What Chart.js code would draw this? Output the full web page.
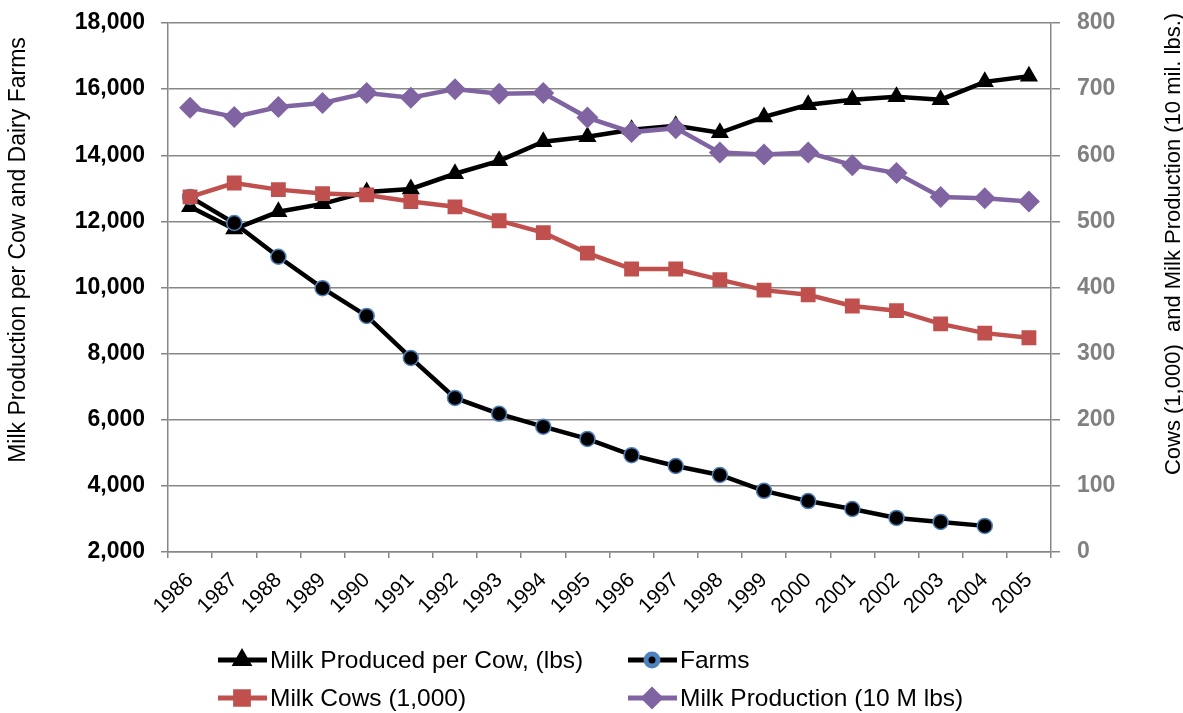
<!DOCTYPE html>
<html>
<head>
<meta charset="utf-8">
<script src="https://cdn.jsdelivr.net/npm/chart.js@4.4.1/dist/chart.umd.min.js"></script>
<style>
  html, body { margin: 0; padding: 0; background: #fff; }
  #wrap { width: 1183px; height: 713px; position: relative; }
</style>
</head>
<body>
<div id="wrap"><canvas id="grafico" width="1183" height="713"></canvas></div>
<script>
/* ---- data ---- */
const years = ['1986','1987','1988','1989','1990','1991','1992','1993','1994','1995',
               '1996','1997','1998','1999','2000','2001','2002','2003','2004','2005'];

// left axis
const milkPerCow = [12440, 11770, 12290, 12530, 12890, 12980, 13440, 13830, 14410, 14560,
                    14770, 14890, 14680, 15160, 15525, 15680, 15770, 15680, 16220, 16390];
const farms = [12740, 11950, 10930, 9980, 9140, 7870, 6660, 6180, 5790, 5420,
               4930, 4600, 4330, 3850, 3540, 3300, 3030, 2910, 2790, null];

// right axis
const milkCows = [537, 558, 548, 542, 540, 530, 522, 501, 483, 452,
                  428, 428, 412, 396, 389, 372, 365, 345, 331, 324];
const milkProduction = [672, 658, 673, 679, 694, 687, 700, 693, 694, 657,
                        635, 641, 604, 601, 604, 585, 573, 537, 535, 530];

const leftTitle  = 'Milk Production per Cow and Dairy Farms';
const rightTitle = 'Cows (1,000)  and Milk Production (10 mil. lbs.)';

const FONT = "'Liberation Sans', Arial, sans-serif";
const GRID = '#878787';

/* ---- legend + axis titles drawn on the canvas ---- */
const legendItems = [
    { text: 'Milk Produced per Cow, (lbs)', line: '#000', fill: '#000', border: '#000', style: 'triangle', r: 7, x: 218, y: 660 },
    { text: 'Farms', line: '#000', fill: '#000', border: '#4f81bd', style: 'circle', r: 6, x: 628, y: 660 },
    { text: 'Milk Cows (1,000)', line: '#c0504d', fill: '#c0504d', border: '#c0504d', style: 'rect', r: 9, x: 218, y: 698 },
    { text: 'Milk Production (10 M lbs)', line: '#8064a2', fill: '#8064a2', border: '#8064a2', style: 'rectRot', r: 8, x: 628, y: 698 }
];

const extras = {
    id: 'extras',
    afterDraw(chart) {
        const ctx = chart.ctx;
        ctx.save();
        // axis titles
        ctx.fillStyle = '#000';
        ctx.textAlign = 'center';
        ctx.textBaseline = 'middle';
        ctx.font = '23px ' + FONT;
        ctx.save();
        ctx.translate(19, 250);
        ctx.rotate(-Math.PI / 2);
        ctx.fillText(leftTitle, 0, 0);
        ctx.restore();
        ctx.font = '22px ' + FONT;
        ctx.save();
        ctx.translate(1174, 244);
        ctx.rotate(-Math.PI / 2);
        ctx.fillText(rightTitle, 0, 0);
        ctx.restore();

        // legend
        ctx.font = '24.5px ' + FONT;
        ctx.textAlign = 'left';
        legendItems.forEach(it => {
            ctx.strokeStyle = it.line;
            ctx.lineWidth = 5;
            ctx.beginPath();
            ctx.moveTo(it.x, it.y);
            ctx.lineTo(it.x + 49, it.y);
            ctx.stroke();
            ctx.fillStyle = it.fill;
            ctx.strokeStyle = it.border;
            Chart.helpers.drawPoint(ctx, { pointStyle: it.style, radius: it.r, rotation: 0, borderWidth: 1.5 }, it.x + 24, it.y);
            ctx.fillStyle = '#000';
            ctx.fillText(it.text, it.x + 52, it.y + 1);
        });
        ctx.restore();
    }
};

new Chart(document.getElementById('grafico'), {
    type: 'line',
    data: {
        labels: years,
        datasets: [
            {
                label: 'Milk Produced per Cow, (lbs)',
                data: milkPerCow,
                yAxisID: 'y',
                borderColor: '#000',
                backgroundColor: '#000',
                borderWidth: 4.5,
                pointStyle: 'triangle',
                pointRadius: 10.5,
                pointBorderWidth: 0,
                order: 4
            },
            {
                label: 'Farms',
                data: farms,
                yAxisID: 'y',
                borderColor: '#000',
                backgroundColor: '#000',
                borderWidth: 4.5,
                pointStyle: 'circle',
                pointRadius: 7.5,
                pointBorderColor: '#4f81bd',
                pointBorderWidth: 1.5,
                order: 3
            },
            {
                label: 'Milk Cows (1,000)',
                data: milkCows,
                yAxisID: 'y1',
                borderColor: '#c0504d',
                backgroundColor: '#c0504d',
                borderWidth: 4.5,
                pointStyle: 'rect',
                pointRadius: 10.5,
                pointBorderWidth: 0,
                order: 2
            },
            {
                label: 'Milk Production (10 M lbs)',
                data: milkProduction,
                yAxisID: 'y1',
                borderColor: '#8064a2',
                backgroundColor: '#8064a2',
                borderWidth: 4.5,
                pointStyle: 'rectRot',
                pointRadius: 11,
                pointBorderWidth: 0,
                order: 1
            }
        ]
    },
    options: {
        responsive: false,
        animation: false,
        events: [],
        layout: { padding: { left: 0, right: 0, top: 23, bottom: 96 } },
        plugins: {
            legend: { display: false },
            tooltip: { enabled: false }
        },
        scales: {
            x: {
                offset: true,
                grid: { display: true, drawOnChartArea: false, offset: true, color: GRID, lineWidth: 1.5, tickLength: 6 },
                border: { color: GRID, width: 1.5 },
                ticks: {
                    autoSkip: false, maxRotation: 45, minRotation: 45,
                    color: '#000', font: { family: FONT, size: 21 }, padding: 10
                },
                afterFit(s) { s.height = 65; }
            },
            y: {
                position: 'left',
                min: 2000, max: 18000,
                grid: { color: GRID, lineWidth: 1.5, tickLength: 7 },
                border: { color: GRID, width: 1.5 },
                ticks: {
                    stepSize: 2000,
                    color: '#000',
                    font: { family: FONT, size: 23, weight: 'bold' },
                    padding: 16,
                    callback: v => v.toLocaleString('en-US')
                },
                afterFit(s) { s.width = 168; s.paddingTop = 8; s.paddingBottom = 8; }
            },
            y1: {
                position: 'right',
                min: 0, max: 800,
                grid: { drawOnChartArea: false, color: GRID, lineWidth: 1.5, tickLength: 9 },
                border: { color: GRID, width: 1.5 },
                ticks: {
                    stepSize: 100,
                    color: '#808080',
                    font: { family: FONT, size: 23, weight: 'bold' },
                    padding: 17
                },
                afterFit(s) { s.width = 132; s.paddingTop = 8; s.paddingBottom = 8; }
            }
        }
    },
    plugins: [extras]
});
</script>
</body>
</html>
